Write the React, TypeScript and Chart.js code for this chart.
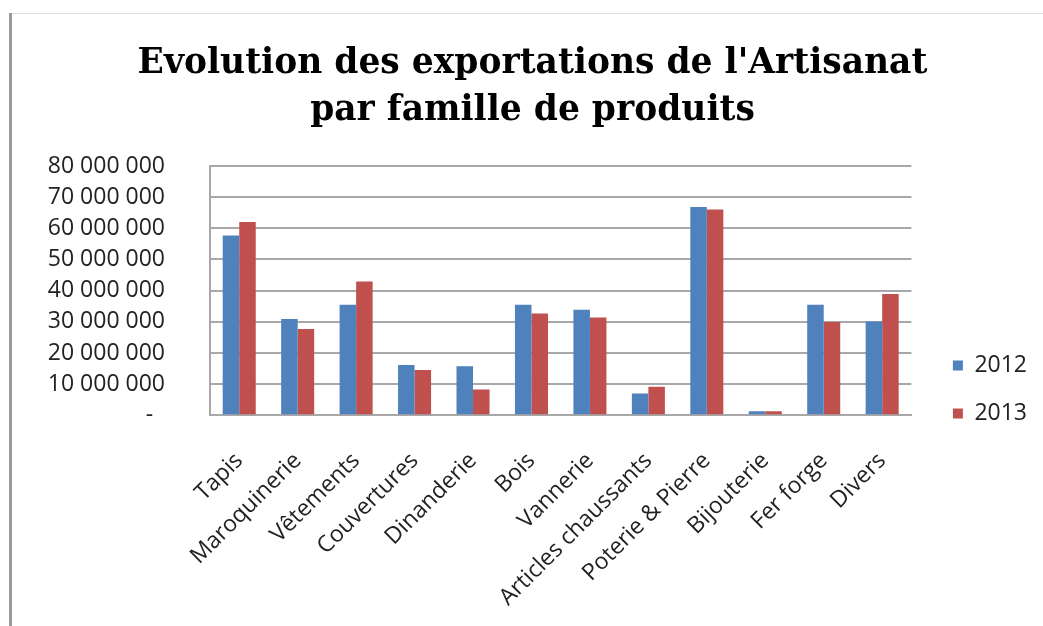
import React, { useEffect, useRef } from "react";
import { Chart, registerables } from "chart.js";

Chart.register(...registerables);

const titleLines = ["Evolution des exportations de l'Artisanat", "par famille de produits"];
const categories = [
  "Tapis",
  "Maroquinerie",
  "Vêtements",
  "Couvertures",
  "Dinanderie",
  "Bois",
  "Vannerie",
  "Articles chaussants",
  "Poterie & Pierre",
  "Bijouterie",
  "Fer forge",
  "Divers",
];
const seriesNames = ["2012", "2013"];
const values2012 = [57700000, 30900000, 35500000, 16100000, 15700000, 35500000, 33900000, 7000000, 66800000, 1300000, 35500000, 30100000];
const values2013 = [62000000, 27700000, 42900000, 14500000, 8300000, 32700000, 31400000, 9200000, 66000000, 1300000, 29900000, 38900000];
const yMin = 0;
const yMax = 80000000;
const yStep = 10000000;

const fmt = (v: number) => (v === 0 ? "-  " : String(v).replace(/\B(?=(\d{3})+(?!\d))/g, " "));

const legendShift = {
  id: "legendShift",
  afterLayout(chart: any) {
    const l = chart.legend;
    if (!l) return;
    const dy = 77;
    l.top += dy;
    l.bottom += dy;
  },
};

export default function App() {
  const ref = useRef<HTMLCanvasElement | null>(null);
  useEffect(() => {
    if (!ref.current) return;
    const chart = new Chart(ref.current, {
      type: "bar",
      data: {
        labels: categories,
        datasets: [
          { label: seriesNames[0], data: values2012, backgroundColor: "#4F81BD", borderWidth: 0, categoryPercentage: 0.565, barPercentage: 1 },
          { label: seriesNames[1], data: values2013, backgroundColor: "#C0504D", borderWidth: 0, categoryPercentage: 0.565, barPercentage: 1 },
        ],
      },
      plugins: [legendShift],
      options: {
        animation: false,
        responsive: true,
        maintainAspectRatio: false,
        layout: { padding: { left: 16, right: 6, top: 0, bottom: 15 } },
        plugins: {
          title: {
            display: true,
            text: titleLines,
            color: "#000",
            font: { family: "'DejaVu Serif'", size: 34.5, weight: "bold", lineHeight: 1.362 },
            padding: { top: 26.5, bottom: 31.5 },
          },
          legend: {
            position: "right",
            labels: {
              boxWidth: 10,
              boxHeight: 10,
              padding: 25,
              color: "#222",
              font: { family: "'Open Sans'", size: 23 },
            },
          },
          tooltip: { enabled: false },
        },
        scales: {
          x: {
            grid: { display: false },
            border: { display: true, color: "#a8a8a8", width: 2 },
            ticks: {
              color: "#222",
              font: { family: "'Open Sans'", size: 23 },
              minRotation: 45,
              maxRotation: 45,
              padding: 24,
              autoSkip: false,
            },
            afterFit: (s: any) => {
              s.height = 195.7;
            },
          },
          y: {
            min: yMin,
            max: yMax,
            grid: { color: "#a8a8a8", lineWidth: 2, drawTicks: false },
            border: { display: true, color: "#a8a8a8", width: 2 },
            ticks: {
              stepSize: yStep,
              color: "#222",
              font: { family: "'Open Sans'", size: 23 },
              padding: 45,
              callback: (v: any) => fmt(Number(v)),
            },
            afterFit: (s: any) => {
              s.width = 182;
            },
          },
          yR: {
            position: "right",
            display: true,
            grid: { display: false },
            border: { display: false },
            ticks: { display: false },
            afterFit: (s: any) => {
              s.width = 16.5;
            },
          },
        },
      },
    });
    return () => chart.destroy();
  }, []);

  return (
    <div style={{ position: "fixed", left: 0, top: 0, width: 1043, height: 626, background: "#fff", overflow: "hidden" }}>
      <div style={{ position: "absolute", left: 9, top: 13, width: 1034, height: 0, borderTop: "1px solid #dedede" }} />
      <div style={{ position: "absolute", left: 9, top: 13, width: 3, height: 613, background: "#9a9a9a" }} />
      <div style={{ position: "absolute", left: 12, top: 14, width: 1031, height: 612 }}>
        <canvas ref={ref} />
      </div>
    </div>
  );
}
